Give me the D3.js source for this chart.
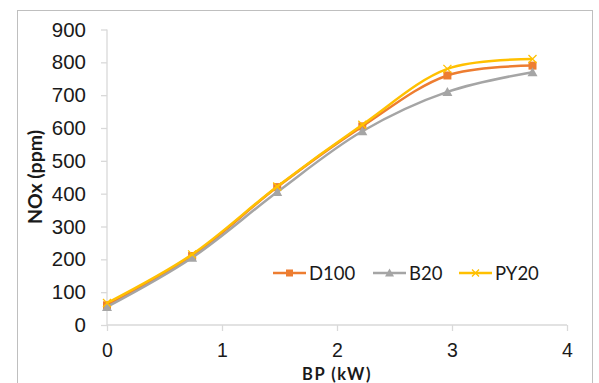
<!DOCTYPE html>
<html>
<head>
<meta charset="utf-8">
<script src="https://cdn.jsdelivr.net/npm/d3@7"></script>
<style>
  body { margin: 0; background: #fff; }
  svg { display: block; font-family: Lato, "Open Sans", sans-serif; }
</style>
</head>
<body>
<svg id="chart" width="599" height="383"></svg>
<script>
// BP (kW) values
var bp = [0, 0.74, 1.48, 2.22, 2.96, 3.7];
// NOx (ppm) per fuel
var d100 = [60, 210, 420, 605, 760, 790];
var b20 = [55, 205, 405, 590, 710, 770];
var py20 = [67, 215, 422, 610, 780, 810];
var seriesNames = ["D100", "B20", "PY20"];
var xTicks = [0, 1, 2, 3, 4];
var yTicks = [0, 100, 200, 300, 400, 500, 600, 700, 800, 900];

var series = [
  {name: seriesNames[0], vals: d100, color: "#ED7D31", mark: "square"},
  {name: seriesNames[1], vals: b20, color: "#A5A5A5", mark: "triangle"},
  {name: seriesNames[2], vals: py20, color: "#FFC000", mark: "x"}
];

var svg = d3.select("#chart");

// outer chart border
svg.append("rect")
  .attr("x", 17.5).attr("y", 10.5)
  .attr("width", 575).attr("height", 380)
  .attr("fill", "none").attr("stroke", "#bfbfbf");

var x = d3.scaleLinear().domain([0, 4]).range([107, 567]);
var y = d3.scaleLinear().domain([0, 900]).range([325, 29.5]);

// y axis
var yAx = svg.append("g").attr("transform", "translate(107,0)")
  .call(d3.axisLeft(y).tickValues(yTicks).tickSize(6).tickPadding(15));
// x axis
var xAx = svg.append("g").attr("transform", "translate(0,325)")
  .call(d3.axisBottom(x).tickValues(xTicks).tickFormat(d3.format("d")).tickSize(6).tickPadding(12));

[yAx, xAx].forEach(function(a) {
  a.select(".domain").attr("stroke", "#d9d9d9").attr("stroke-width", 1.3);
  a.selectAll(".tick line").attr("stroke", "#d9d9d9").attr("stroke-width", 1.3);
  a.selectAll(".tick text").attr("fill", "#1a1a1a").style("font-size", "20.5px");
});
xAx.selectAll(".tick text").style("font-size", "19.5px");
// no extra end ticks from domain path
yAx.select(".domain").attr("d", "M0,325V29.5");
xAx.select(".domain").attr("d", "M107,0H567");

// axis titles
svg.append("text")
  .attr("x", 337).attr("y", 379.5)
  .attr("text-anchor", "middle")
  .style("font-size", "16.5px").style("font-weight", "bold")
  .style("letter-spacing", "1.5px")
  .attr("fill", "#1a1a1a")
  .text("BP (kW)");

svg.append("text")
  .attr("transform", "translate(42,177) rotate(-90)")
  .attr("text-anchor", "middle")
  .style("font-size", "19.5px").style("font-weight", "bold")
  .attr("fill", "#1a1a1a")
  .text("NOx (ppm)");

var line = d3.line()
  .x(function(d, i) { return x(bp[i]); })
  .y(function(d) { return y(d); })
  .curve(d3.curveCatmullRom.alpha(0.5));

function drawMark(g, type, cx, cy, color, s) {
  if (type == "square") {
    g.append("rect").attr("x", cx - s).attr("y", cy - s)
      .attr("width", 2 * s).attr("height", 2 * s).attr("fill", color);
  } else if (type == "triangle") {
    g.append("path")
      .attr("d", "M" + cx + "," + (cy - s - 1) + "L" + (cx + s + 1) + "," + (cy + s) + "L" + (cx - s - 1) + "," + (cy + s) + "Z")
      .attr("fill", color);
  } else {
    g.append("path")
      .attr("d", "M" + (cx - s) + "," + (cy - s) + "L" + (cx + s) + "," + (cy + s) + "M" + (cx + s) + "," + (cy - s) + "L" + (cx - s) + "," + (cy + s))
      .attr("stroke", color).attr("stroke-width", 1.3).attr("fill", "none");
  }
}

series.forEach(function(s) {
  var g = svg.append("g");
  g.append("path")
    .attr("d", line(s.vals))
    .attr("fill", "none")
    .attr("stroke", s.color)
    .attr("stroke-width", 2.5);
  s.vals.forEach(function(v, i) {
    drawMark(g, s.mark, x(bp[i]), y(v), s.color, 4);
  });
});

// legend
var legX = [273, 373, 459];
series.forEach(function(s, i) {
  var lg = svg.append("g");
  lg.append("line")
    .attr("x1", legX[i]).attr("x2", legX[i] + 33)
    .attr("y1", 273).attr("y2", 273)
    .attr("stroke", s.color).attr("stroke-width", 2.5);
  drawMark(lg, s.mark, legX[i] + 16.5, 273, s.color, 3.5);
  lg.append("text")
    .attr("x", legX[i] + 36).attr("y", 279.5)
    .style("font-size", "18.5px")
    .attr("fill", "#1a1a1a")
    .text(s.name);
});
</script>
</body>
</html>
